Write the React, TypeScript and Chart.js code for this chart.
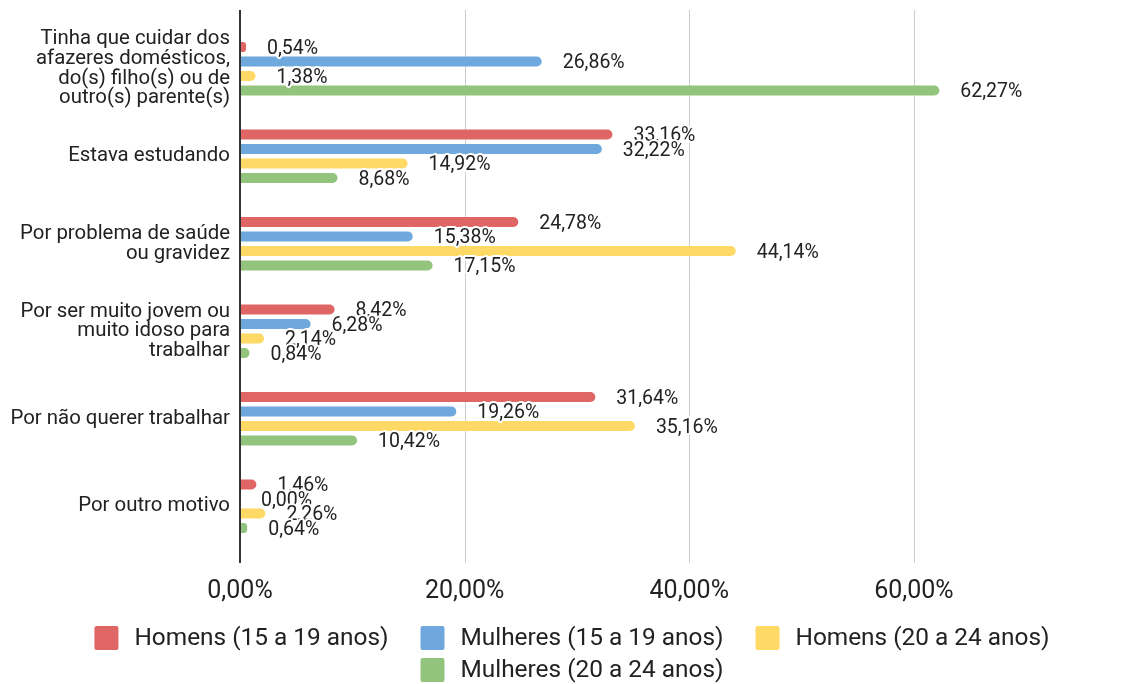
import React, { useEffect, useRef } from 'react';
import { Chart, registerables } from 'chart.js';

Chart.register(...registerables);

const categories: (string | string[])[] = [
  ['Tinha que cuidar dos', 'afazeres domésticos,', 'do(s) filho(s) ou de', 'outro(s) parente(s)'],
  'Estava estudando',
  ['Por problema de saúde', 'ou gravidez'],
  ['Por ser muito jovem ou', 'muito idoso para', 'trabalhar'],
  'Por não querer trabalhar',
  'Por outro motivo',
];

const seriesNames = [
  'Homens (15 a 19 anos)',
  'Mulheres (15 a 19 anos)',
  'Homens (20 a 24 anos)',
  'Mulheres (20 a 24 anos)',
];

const homens1519 = [0.54, 33.16, 24.78, 8.42, 31.64, 1.46];
const mulheres1519 = [26.86, 32.22, 15.38, 6.28, 19.26, 0.0];
const homens2024 = [1.38, 14.92, 44.14, 2.14, 35.16, 2.26];
const mulheres2024 = [62.27, 8.68, 17.15, 0.84, 10.42, 0.64];

const xTickValues = [0, 20, 40, 60];
const seriesColors = ['#e06666', '#6fa8dc', '#ffd966', '#93c47d'];

const FONT = 'Roboto, "Noto Sans", Arial, sans-serif';

const fmt = (v: number) => v.toFixed(2).replace('.', ',') + '%';

const gridPlugin = {
  id: 'extGrid',
  beforeDatasetsDraw(chart: any) {
    const { ctx, chartArea } = chart;
    const xs = chart.scales.x;
    ctx.save();
    ctx.strokeStyle = '#cccccc';
    ctx.lineWidth = 1;
    xTickValues.forEach((v) => {
      if (v === 0) return;
      const px = Math.round(xs.getPixelForValue(v)) + 0.5;
      ctx.beginPath();
      ctx.moveTo(px, chartArea.top - 15);
      ctx.lineTo(px, chartArea.bottom + 13);
      ctx.stroke();
    });
    ctx.restore();
  },
  afterDatasetsDraw(chart: any) {
    const { ctx, chartArea } = chart;
    const xs = chart.scales.x;
    ctx.save();
    ctx.strokeStyle = '#333333';
    ctx.lineWidth = 2;
    const px = Math.round(xs.getPixelForValue(0));
    ctx.beginPath();
    ctx.moveTo(px, chartArea.top - 15);
    ctx.lineTo(px, chartArea.bottom + 13);
    ctx.stroke();

    // data labels
    ctx.font = `19.5px ${FONT}`;
    ctx.textAlign = 'left';
    ctx.textBaseline = 'middle';
    ctx.lineJoin = 'round';
    chart.data.datasets.forEach((ds: any, i: number) => {
      const meta = chart.getDatasetMeta(i);
      meta.data.forEach((bar: any, j: number) => {
        const text = fmt(ds.data[j]);
        const x = bar.x + 21;
        const y = bar.y + 2;
        ctx.strokeStyle = '#ffffff';
        ctx.lineWidth = 4;
        ctx.strokeText(text, x, y);
        ctx.fillStyle = '#222222';
        ctx.fillText(text, x, y);
      });
    });
    ctx.restore();
  },
};

const legendPlugin = {
  id: 'customLegend',
  afterDraw(chart: any) {
    const { ctx } = chart;
    const ds = chart.data.datasets;
    const box = 24;
    const gap = 16;
    const itemGap = 32;
    ctx.save();
    ctx.font = `24.4px ${FONT}`;
    ctx.textBaseline = 'middle';
    ctx.textAlign = 'left';
    const widths = ds.map((d: any) => box + gap + ctx.measureText(d.label).width);
    const row1 = [0, 1, 2];
    const row1W = row1.reduce((s, k) => s + widths[k], 0) + itemGap * (row1.length - 1);
    let x = chart.width / 2 + 5 - row1W / 2;
    const starts: number[] = [];
    const drawItem = (k: number, xx: number, yc: number) => {
      ctx.fillStyle = ds[k].backgroundColor;
      ctx.beginPath();
      (ctx as any).roundRect(xx, yc - box / 2, box, box, 2);
      ctx.fill();
      ctx.fillStyle = '#222222';
      ctx.fillText(ds[k].label, xx + box + gap, yc + 1);
    };
    row1.forEach((k) => {
      starts.push(x);
      drawItem(k, x, 638);
      x += widths[k] + itemGap;
    });
    drawItem(3, starts[1], 670);
    ctx.restore();
  },
};

export default function App() {
  const ref = useRef<HTMLCanvasElement | null>(null);

  useEffect(() => {
    if (!ref.current) return;
    const dataArrays = [homens1519, mulheres1519, homens2024, mulheres2024];
    const chart = new Chart(ref.current, {
      type: 'bar',
      data: {
        labels: categories,
        datasets: dataArrays.map((arr, i) => ({
          label: seriesNames[i],
          data: arr,
          backgroundColor: seriesColors[i],
          borderRadius: 5,
          borderSkipped: 'start',
          barPercentage: 0.69,
          categoryPercentage: 0.663,
        })),
      },
      options: {
        indexAxis: 'y',
        animation: false,
        responsive: false,
        layout: { padding: { top: 25, bottom: 74, left: 0, right: 0 } },
        plugins: {
          legend: { display: false },
          tooltip: { enabled: false },
        },
        scales: {
          x: {
            type: 'linear',
            min: 0,
            max: 79.6,
            grid: { display: false, drawTicks: false },
            border: { display: false },
            ticks: {
              stepSize: 20,
              padding: 27,
              color: '#222222',
              font: { family: FONT, size: 25 },
              callback: (v: any) => fmt(Number(v)),
            },
            afterBuildTicks: (s: any) => {
              s.ticks = xTickValues.map((v) => ({ value: v }));
            },
            afterFit: (s: any) => {
              s.height = 60;
            },
          },
          y: {
            type: 'category',
            grid: { display: false, drawTicks: false },
            border: { display: false },
            ticks: {
              autoSkip: false,
              padding: 10,
              color: '#222222',
              font: { family: FONT, size: 20.4, lineHeight: 0.96 },
            },
            afterFit: (s: any) => {
              s.width = 240;
            },
          },
        },
      },
      plugins: [gridPlugin, legendPlugin],
    } as any);
    return () => chart.destroy();
  }, []);

  return (
    <div style={{ position: 'absolute', left: 0, top: 0, width: 1134, height: 684, background: '#fff' }}>
      <canvas ref={ref} width={1134} height={684} style={{ display: 'block' }} />
    </div>
  );
}
